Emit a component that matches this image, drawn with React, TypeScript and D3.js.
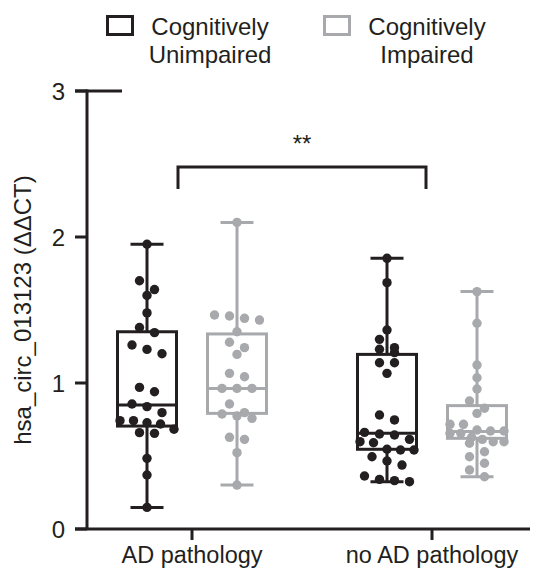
import React from 'react'
import * as d3 from 'd3'

// categories
const groups = ['AD pathology', 'no AD pathology']
const statuses = ['Cognitively Unimpaired', 'Cognitively Impaired']
const legendLines = [
    ['Cognitively', 'Unimpaired'],
    ['Cognitively', 'Impaired'],
]
const yTicks = [0, 1, 2, 3]
const yTitle = 'hsa_circ_013123 (ΔΔCT)'
const sigLabel = '**'

// values
const adUnimpaired = [1.95, 1.7, 1.64, 1.6, 1.48, 1.38, 1.345, 1.26, 1.23, 1.2, 0.97, 0.94, 0.856, 0.838, 0.797, 0.742, 0.742, 0.728, 0.719, 0.683, 0.66, 0.655, 0.484, 0.37, 0.148]
const adImpaired = [2.1, 1.466, 1.459, 1.443, 1.431, 1.351, 1.279, 1.242, 1.196, 1.066, 1.043, 0.963, 0.963, 0.963, 0.856, 0.797, 0.788, 0.774, 0.758, 0.628, 0.614, 0.523, 0.301]
const noAdUnimpaired = [1.854, 1.687, 1.363, 1.299, 1.242, 1.231, 1.208, 1.139, 1.139, 1.066, 0.781, 0.747, 0.662, 0.651, 0.644, 0.614, 0.598, 0.591, 0.546, 0.541, 0.541, 0.495, 0.466, 0.438, 0.363, 0.34, 0.331, 0.324]
const noAdImpaired = [1.626, 1.409, 1.123, 1.036, 0.959, 0.877, 0.827, 0.792, 0.717, 0.717, 0.678, 0.671, 0.671, 0.655, 0.655, 0.628, 0.614, 0.598, 0.598, 0.587, 0.529, 0.495, 0.45, 0.404, 0.358]

// box quartiles, same order as above
const boxQ1 = [0.705, 0.792, 0.546, 0.621]
const boxMedian = [0.849, 0.963, 0.655, 0.667]
const boxQ3 = [1.351, 1.336, 1.196, 0.845]

const colors = ['#231f20', '#a7a9ac']
const font = '"Liberation Sans", Arial, Helvetica, sans-serif'

const width = 533
const height = 569
const boxW = 59
const capW = 33
const r = 4.7
const dodge = 15
const spread = 54
const lw = 3

const y = d3.scaleLinear().domain([0, 3]).range([529, 91])
const x = d3.scalePoint().domain(groups).range([192, 432])
const sub = d3.scalePoint().domain(statuses).range([-45, 45])

const series = [
    { g: groups[0], s: statuses[0], values: adUnimpaired },
    { g: groups[0], s: statuses[1], values: adImpaired },
    { g: groups[1], s: statuses[0], values: noAdUnimpaired },
    { g: groups[1], s: statuses[1], values: noAdImpaired },
].map((d, i) => ({ ...d, q1: boxQ1[i], med: boxMedian[i], q3: boxQ3[i] }))

// simple row-binned scatter like Prism does it
function swarm(values: number[]) {
    const sorted = [...values].sort((a, b) => b - a)
    const out: { v: number; dx: number }[] = []
    let k = 0
    while (k < sorted.length) {
        const top = y(sorted[k])
        const bin: number[] = []
        while (k < sorted.length && y(sorted[k]) - top < 8.8) {
            bin.push(sorted[k])
            k++
        }
        const step = bin.length > 1 ? Math.min(dodge, spread / (bin.length - 1)) : 0
        bin.forEach((v, j) => out.push({ v, dx: (j - (bin.length - 1) / 2) * step }))
    }
    return out
}

export default function App() {
    const axisX = 87
    const y0 = y(0)
    const bracketY = 167
    const bx1 = (x(groups[0]) as number) - 14
    const bx2 = (x(groups[1]) as number) - 6

    return (
        <svg
            width={width}
            height={height}
            style={{ position: 'absolute', left: 0, top: 0, background: '#fff' }}
            fontFamily={font}
        >
            {/* legend */}
            {statuses.map((s, i) => {
                const lx = [107.5, 324.5][i]
                const tx = [210, 427][i]
                return (
                    <g key={s}>
                        <rect x={lx} y={16.5} width={25} height={18} fill="none" stroke={colors[i]} strokeWidth={lw} />
                        {legendLines[i].map((t, j) => (
                            <text key={t} x={tx} y={35 + j * 28} fontSize={24} textAnchor="middle" fill="#231f20">
                                {t}
                            </text>
                        ))}
                    </g>
                )
            })}

            {/* y axis */}
            <line x1={axisX} x2={axisX} y1={y(3) - lw / 2} y2={y0} stroke="#231f20" strokeWidth={lw} />
            <line x1={75} x2={122} y1={y(3)} y2={y(3)} stroke="#231f20" strokeWidth={lw} />
            {yTicks.map((t) => (
                <g key={t}>
                    <line x1={75} x2={axisX} y1={y(t)} y2={y(t)} stroke="#231f20" strokeWidth={lw} />
                    <text x={65} y={y(t)} dy="0.36em" fontSize={24} textAnchor="end" fill="#231f20">
                        {t}
                    </text>
                </g>
            ))}
            <text
                transform={`translate(31, ${(y(0) + y(3)) / 2}) rotate(-90)`}
                fontSize={24}
                textAnchor="middle"
                fill="#231f20"
            >
                {yTitle}
            </text>

            {/* x axis */}
            <line x1={75} x2={530} y1={y0} y2={y0} stroke="#231f20" strokeWidth={lw} />
            {groups.map((g) => (
                <g key={g}>
                    <line x1={x(g)} x2={x(g)} y1={y0} y2={y0 + 11} stroke="#231f20" strokeWidth={lw} />
                    <text x={x(g)} y={563} fontSize={23.5} textAnchor="middle" fill="#231f20">
                        {g}
                    </text>
                </g>
            ))}

            {/* boxes */}
            {series.map((d, i) => {
                const cx = (x(d.g) as number) + (sub(d.s) as number)
                const c = colors[statuses.indexOf(d.s)]
                const [mn, mx] = d3.extent(d.values) as [number, number]
                return (
                    <g key={i}>
                        <line x1={cx} x2={cx} y1={y(mx)} y2={y(mn)} stroke={c} strokeWidth={lw} />
                        <line x1={cx - capW / 2} x2={cx + capW / 2} y1={y(mx)} y2={y(mx)} stroke={c} strokeWidth={lw} />
                        <line x1={cx - capW / 2} x2={cx + capW / 2} y1={y(mn)} y2={y(mn)} stroke={c} strokeWidth={lw} />
                        <rect
                            x={cx - boxW / 2}
                            y={y(d.q3)}
                            width={boxW}
                            height={y(d.q1) - y(d.q3)}
                            fill="#fff"
                            stroke={c}
                            strokeWidth={lw}
                        />
                        <line x1={cx - boxW / 2} x2={cx + boxW / 2} y1={y(d.med)} y2={y(d.med)} stroke={c} strokeWidth={lw} />
                        {swarm(d.values).map((p, j) => (
                            <circle key={j} cx={cx + p.dx} cy={y(p.v)} r={r} fill={c} />
                        ))}
                    </g>
                )
            })}

            {/* significance bracket */}
            <path
                d={`M${bx1},${bracketY + 22}V${bracketY}H${bx2}V${bracketY + 22}`}
                fill="none"
                stroke="#231f20"
                strokeWidth={lw}
            />
            <text x={(bx1 + bx2) / 2} y={152} fontSize={24} textAnchor="middle" fill="#231f20">
                {sigLabel}
            </text>
        </svg>
    )
}
